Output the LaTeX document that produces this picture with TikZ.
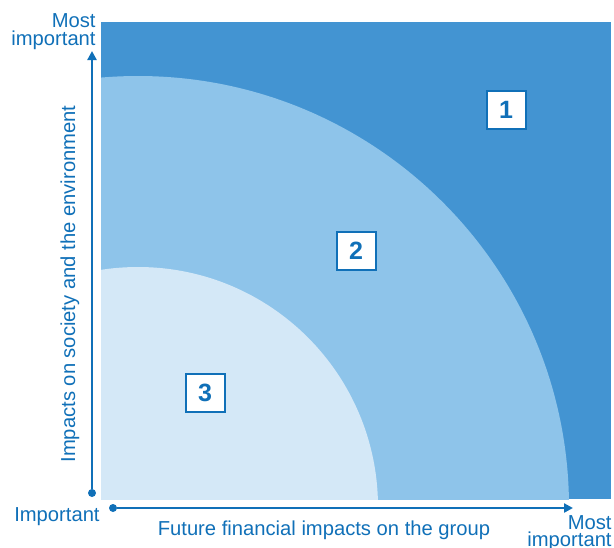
\documentclass[tikz,border=0pt]{standalone}
\usepackage{fontspec}
\setmainfont{Liberation Sans}
\usetikzlibrary{positioning,arrows.meta}
\definecolor{zonedark}{RGB}{67,148,210}
\definecolor{zonemid}{RGB}{142,196,234}
\definecolor{zonelight}{RGB}{212,232,247}
\definecolor{axisblue}{RGB}{16,112,184}

\begin{document}
\begin{tikzpicture}[x=0.5pt,y=-0.5pt,>={Triangle[length=4.5pt,width=4.5pt]},font=\fontsize{10.1}{8.7}\selectfont]
\tikzstyle{axis}=[draw=axisblue,line width=1.35pt]
\tikzstyle{dot}=[circle,fill=axisblue,inner sep=0pt,minimum size=4pt]
\tikzstyle{label}=[text=axisblue,inner sep=0pt]
\tikzstyle{zone}=[draw=axisblue,line width=1pt,fill=white,text=axisblue,font=\fontsize{12.5}{14}\selectfont\bfseries,minimum width=19.5pt,minimum height=19pt,inner sep=0pt]
\useasboundingbox (0,0) rectangle (614,547);
% the three zones, cut to the square
\fill[zonedark] (101,22) rectangle (611,499);
\begin{scope}
\clip (101,22) rectangle (611,499);
\fill[zonemid] (138,507) circle[radius=215.5pt];
\fill[zonelight] (138,507) circle[radius=120pt];
\end{scope}
\node[zone] (z1) at (506,110) {1};
\node[zone] (z2) at (356,251) {2};
\node[zone] (z3) at (205,393) {3};
% axes
\node[dot] (ydot) at (92,493) {};
\coordinate (ytip) at (92,51);
\node[dot] (xdot) at (113,508) {};
\coordinate (xtip) at (573,508);
\draw[axis,->] (ydot) -- (ytip);
\draw[axis,->] (xdot) -- (xtip);
\node[label,align=right,anchor=north east] (ytop) at (96,13.5) {Most\\important};
\node[label,anchor=base east] (origin) at (100,521) {Important};
\node[label,align=right,anchor=north east] (xtop) at (612,515) {Most\\important};
\node[label,anchor=base] (xname) at (324,535) {Future financial impacts on the group};
\node[label,rotate=90,anchor=base] (yname) at (75,284) {Impacts on society and the environment};
\end{tikzpicture}
\end{document}
